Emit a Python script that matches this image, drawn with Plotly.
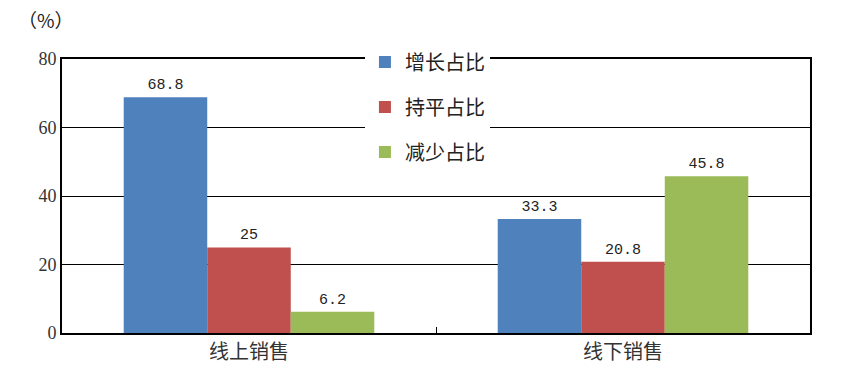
import plotly.graph_objects as go

categories = ["线上销售", "线下销售"]
series_names = ["增长占比", "持平占比", "减少占比"]
growth = [68.8, 33.3]
flat = [25, 20.8]
decrease = [6.2, 45.8]
colors = ["#4F81BD", "#C0504D", "#9BBB59"]
y_ticks = [0, 20, 40, 60, 80]

cjk = "'Noto Sans CJK SC', sans-serif"

fig = go.Figure()
for name, vals, col in zip(series_names, [growth, flat, decrease], colors):
    fig.add_trace(go.Bar(
        x=categories, y=vals, name=name, marker=dict(color=col, line=dict(width=0)),
        text=[str(v) for v in vals],
        textposition="outside", cliponaxis=False,
        textfont=dict(family="'Liberation Mono', monospace", size=15, color="#222"),
        legendgroup=name,
    ))

fig.update_layout(
    width=846, height=377,
    margin=dict(l=62, r=36, t=59, b=44),
    paper_bgcolor="white", plot_bgcolor="white",
    barmode="group", bargap=0.33, bargroupgap=0,
    showlegend=True,
    legend=dict(x=0.405, y=1.06, xanchor="left", yanchor="top",
                bgcolor="white", borderwidth=0, tracegroupgap=16,
                font=dict(family=cjk, size=20, color="#222"),
                itemwidth=30),
    xaxis=dict(showline=True, linecolor="black", linewidth=2, mirror=True,
               ticks="inside", tickson="boundaries", ticklen=6, tickcolor="black",
               tickfont=dict(family=cjk, size=20, color="#333"), showgrid=False),
    yaxis=dict(range=[0, 80], tickvals=y_ticks, showline=True, linecolor="black", linewidth=2,
               mirror=True, showgrid=True, gridcolor="black", gridwidth=1,
               tickfont=dict(family="'Liberation Serif', serif", size=18, color="#333"),
               ticks="", zeroline=False),
    annotations=[dict(text="（%）", x=0, y=1, xref="paper", yref="paper", xanchor="center",
                      yanchor="bottom", xshift=-16, yshift=24, showarrow=False,
                      font=dict(family=cjk, size=19, color="#222"))],
)

fig.write_html("out.html")
